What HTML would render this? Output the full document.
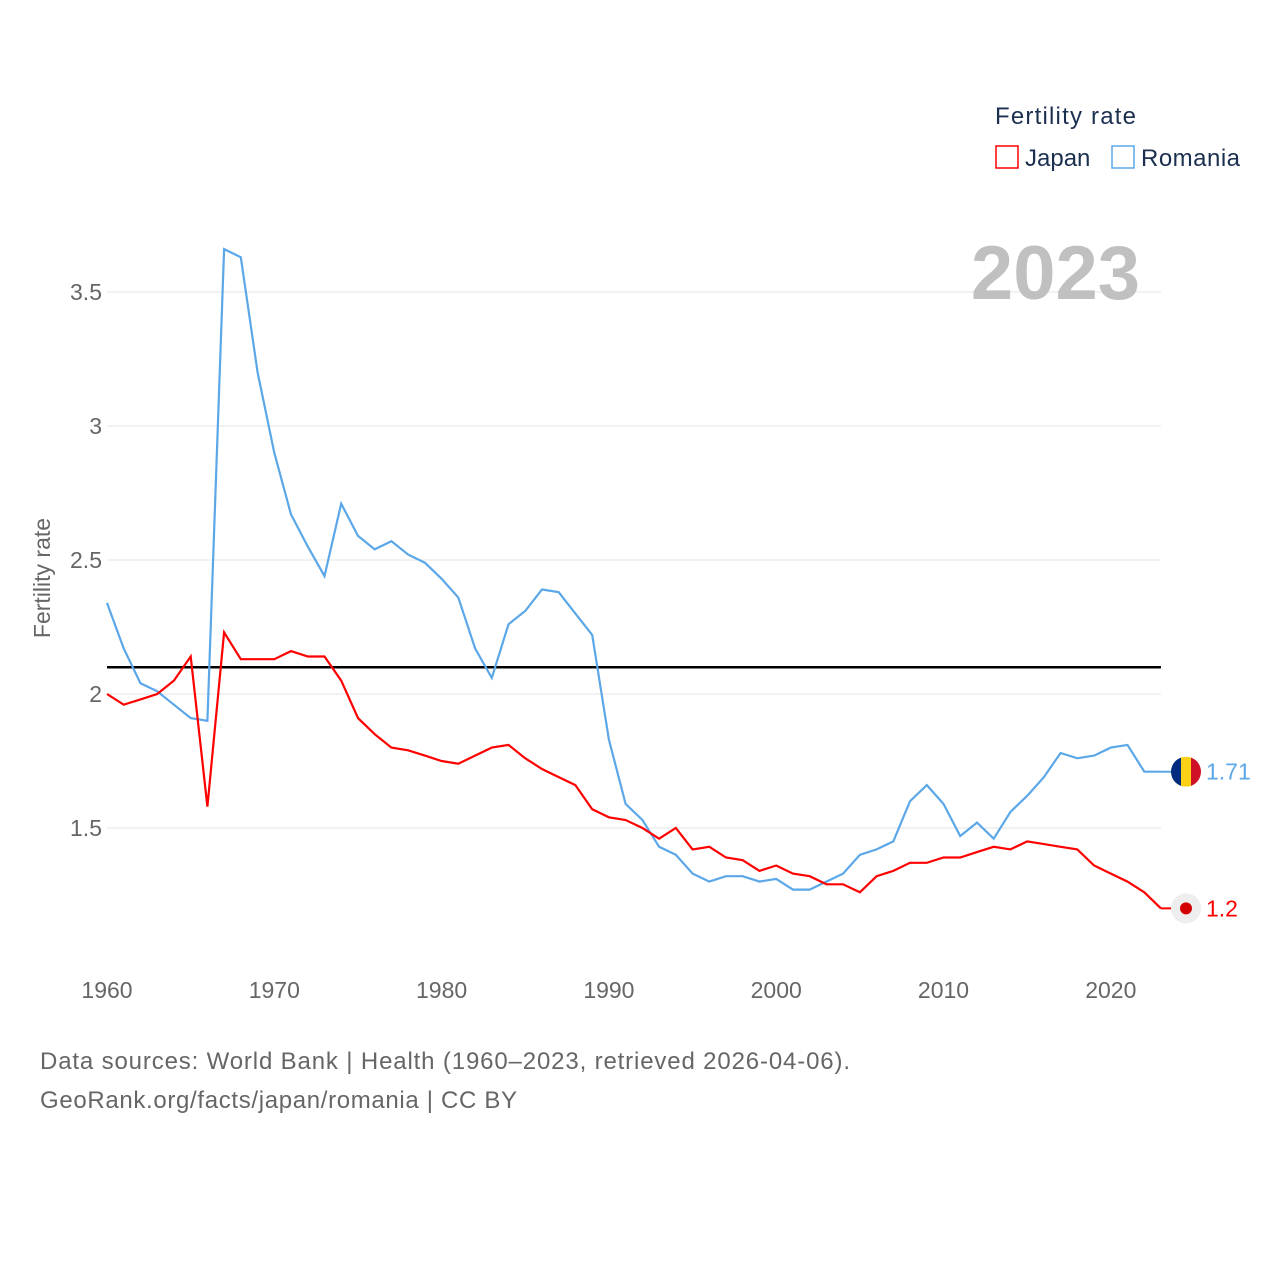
<!DOCTYPE html>
<html><head><meta charset="utf-8"><style>
body{margin:0;background:#fff;font-family:"Liberation Sans",sans-serif;}
svg text{font-family:"Liberation Sans",sans-serif;}
</style></head><body>
<svg id="chart" width="1280" height="1280" viewBox="0 0 1280 1280" xmlns="http://www.w3.org/2000/svg">
<rect width="1280" height="1280" fill="#fff"/>
<g id="grid"></g>
<g id="ylabels"></g>
<g id="xlabels"></g>
<text transform="translate(50,578) rotate(-90)" text-anchor="middle" font-size="23" fill="#666">Fertility rate</text>
<text x="1140" y="299" text-anchor="end" font-size="76" font-weight="bold" fill="#c0c0c0">2023</text>
<line id="refline" stroke="#000" stroke-width="2.5"/>
<path id="romania" fill="none" stroke="#5ba7e8" stroke-width="2.2"/>
<path id="japan" fill="none" stroke="#f00" stroke-width="2.2"/>
<g>
<text x="995" y="124" font-size="24" fill="#1b2f4f" textLength="141">Fertility rate</text>
<rect x="996" y="146" width="22" height="22" fill="none" stroke="#f00" stroke-width="1.5"/>
<text x="1025" y="166" font-size="24" fill="#1b2f4f">Japan</text>
<rect x="1112" y="146" width="22" height="22" fill="none" stroke="#5ba7e8" stroke-width="1.5"/>
<text x="1141" y="166" font-size="24" fill="#1b2f4f" textLength="99">Romania</text>
</g>
<g id="endmarks"></g>
<text x="40" y="1069" font-size="24" fill="#666" textLength="810">Data sources: World Bank | Health (1960–2023, retrieved 2026-04-06).</text>
<text x="40" y="1108" font-size="24" fill="#666" textLength="477">GeoRank.org/facts/japan/romania | CC BY</text>
</svg>
<script>
const years=[];for(let y=1960;y<=2023;y++)years.push(y);
const romania=[2.34,2.17,2.04,2.01,1.96,1.91,1.90,3.66,3.63,3.20,2.90,2.67,2.55,2.44,2.71,2.59,2.54,2.57,2.52,2.49,2.43,2.36,2.17,2.06,2.26,2.31,2.39,2.38,2.30,2.22,1.83,1.59,1.53,1.43,1.40,1.33,1.30,1.32,1.32,1.30,1.31,1.27,1.27,1.30,1.33,1.40,1.42,1.45,1.60,1.66,1.59,1.47,1.52,1.46,1.56,1.62,1.69,1.78,1.76,1.77,1.80,1.81,1.71,1.71];
const japan=[2.00,1.96,1.98,2.00,2.05,2.14,1.58,2.23,2.13,2.13,2.13,2.16,2.14,2.14,2.05,1.91,1.85,1.80,1.79,1.77,1.75,1.74,1.77,1.80,1.81,1.76,1.72,1.69,1.66,1.57,1.54,1.53,1.50,1.46,1.50,1.42,1.43,1.39,1.38,1.34,1.36,1.33,1.32,1.29,1.29,1.26,1.32,1.34,1.37,1.37,1.39,1.39,1.41,1.43,1.42,1.45,1.44,1.43,1.42,1.36,1.33,1.30,1.26,1.20];
const yTicks=[1.5,2,2.5,3,3.5];
const yTickLabels=["1.5","2","2.5","3","3.5"];
const xTicks=[1960,1970,1980,1990,2000,2010,2020];
const refValue=2.1;
const NS="http://www.w3.org/2000/svg";
const x=v=>107+(v-1960)*(1161-107)/63;
const y=v=>694-(v-2)*268;
function mk(tag,attrs,parent,txt){const e=document.createElementNS(NS,tag);for(const k in attrs)e.setAttribute(k,attrs[k]);if(txt!=null)e.textContent=txt;parent.appendChild(e);return e;}
const grid=document.getElementById('grid'),yl=document.getElementById('ylabels'),xl=document.getElementById('xlabels');
yTicks.forEach((t,i)=>{
 const l=mk('line',{x1:107,x2:1161,y1:y(t),y2:y(t),stroke:'#e6e6e6','stroke-width':1},grid);
 
 
 const tx=mk('text',{x:102,y:y(t)+8,'text-anchor':'end','font-size':23,fill:'#666'},yl,yTickLabels[i]);
 
 
});
xTicks.forEach(t=>{
 const tx=mk('text',{x:x(t),y:998,'text-anchor':'middle','font-size':23,fill:'#666'},xl,String(t));
 
 
});
const r=document.getElementById('refline');
r.setAttribute('x1',107);r.setAttribute('x2',1161);r.setAttribute('y1',y(refValue));r.setAttribute('y2',y(refValue));
const path=arr=>arr.map((v,i)=>(i?'L':'M')+x(years[i]).toFixed(1)+','+y(v).toFixed(1)).join('');
document.getElementById('romania').setAttribute('d',path(romania));
document.getElementById('japan').setAttribute('d',path(japan));
const em=document.getElementById('endmarks');
const rv=romania[romania.length-1],jv=japan[japan.length-1];
const fx=1186;
let c1=mk('line',{x1:1161,x2:fx,y1:y(rv),y2:y(rv),stroke:'#5ba7e8','stroke-width':2},em);


let c2=mk('line',{x1:1161,x2:fx,y1:y(jv),y2:y(jv),stroke:'#f00','stroke-width':2},em);


const g1=mk('g',{},em);


const cp=mk('clipPath',{id:'rc'},g1);mk('circle',{cx:fx,cy:y(rv),r:15},cp);
mk('rect',{x:fx-15,y:y(rv)-15,width:10,height:30,fill:'#002b7f','clip-path':'url(#rc)'},g1);
mk('rect',{x:fx-5,y:y(rv)-15,width:10,height:30,fill:'#fcd116','clip-path':'url(#rc)'},g1);
mk('rect',{x:fx+5,y:y(rv)-15,width:10,height:30,fill:'#ce1126','clip-path':'url(#rc)'},g1);
const g2=mk('g',{},em);


mk('circle',{cx:fx,cy:y(jv),r:15,fill:'#eee'},g2);
mk('circle',{cx:fx,cy:y(jv),r:6,fill:'#d30000'},g2);
const t1=mk('text',{x:1206,y:y(rv)+8,'font-size':23,fill:'#5ba7e8'},em,String(rv));


const t2=mk('text',{x:1206,y:y(jv)+8,'font-size':23,fill:'#f00'},em,String(jv));


</script>
</body></html>
